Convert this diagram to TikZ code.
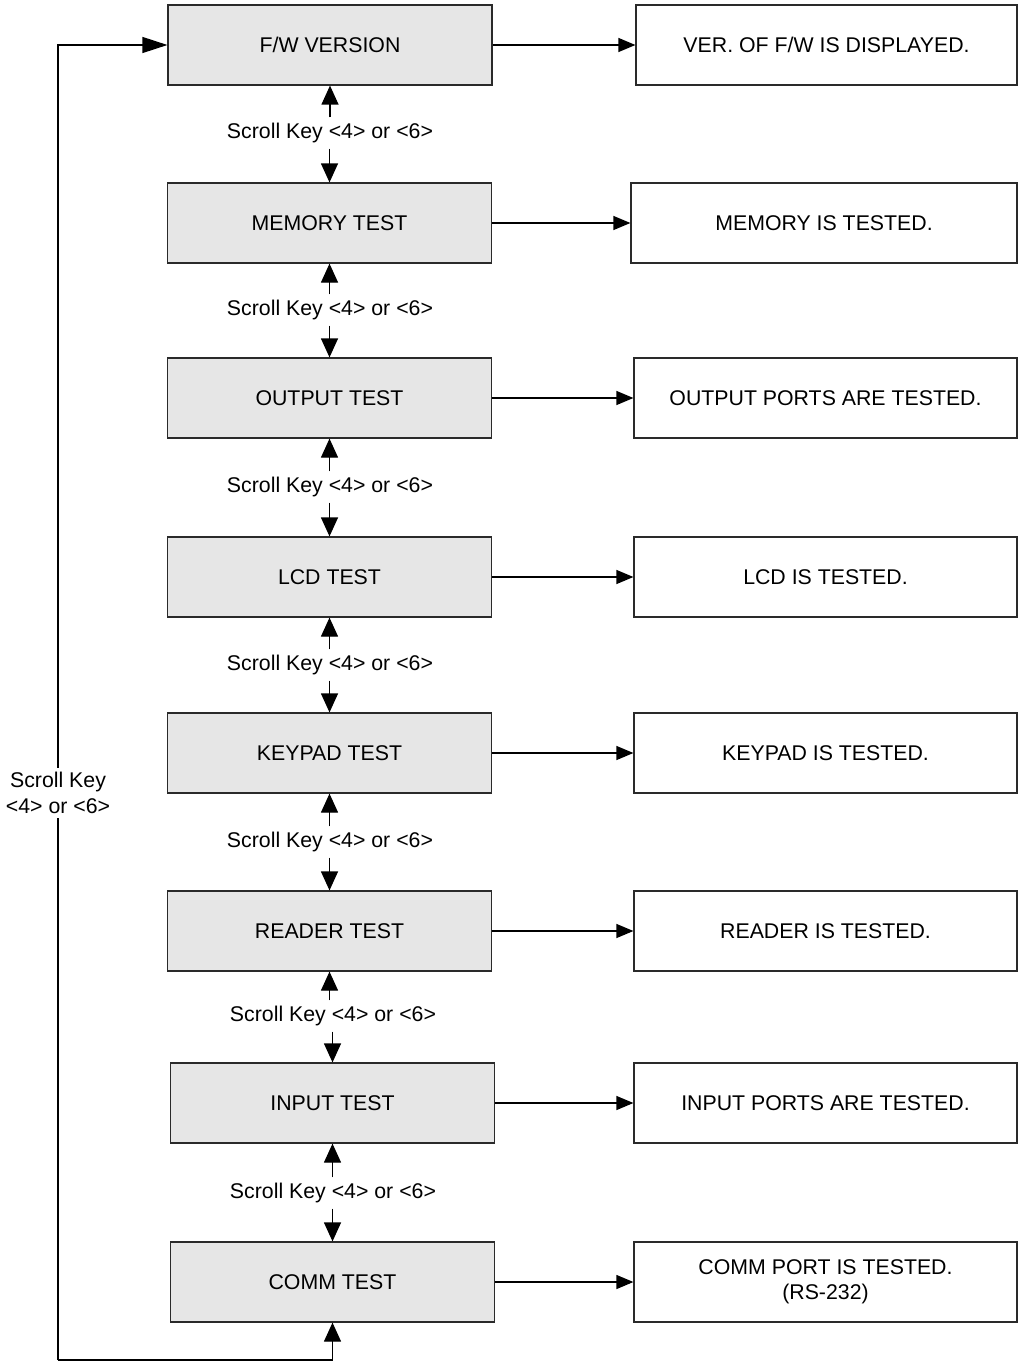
\documentclass[tikz,border=0pt]{standalone}
\usepackage{fontspec}
\setmainfont{Liberation Sans}
\usetikzlibrary{arrows.meta}
\definecolor{boxgray}{HTML}{E6E6E6}
\definecolor{edgegray}{HTML}{2A2A2A}
\begin{document}
\begin{tikzpicture}[x=1pt,y=-1pt,
  font=\fontsize{21.3}{25.5}\selectfont,
  line width=1.2pt,
  stagebox/.style={draw=edgegray, fill=boxgray, minimum width=324pt, minimum height=80pt, inner sep=0pt},
  resultbox/.style={draw=edgegray, fill=white, minimum width=383pt, minimum height=80pt, inner sep=0pt, align=center},
  flow/.style={-{Triangle[length=17pt,width=14pt]}},
  scroll/.style={-{Triangle[length=19pt,width=17pt]}},
  back/.style={-{Triangle[length=25pt,width=16pt]}},
  keylabel/.style={fill=white, inner xsep=2pt, inner ysep=5pt, align=center}]
\useasboundingbox (0,0) rectangle (1019,1362);

% test stages
\node[stagebox] (fw)   at (330,45)     {F/W VERSION};
\node[stagebox] (mem)  at (329.5,223)  {MEMORY TEST};
\node[stagebox] (out)  at (329.5,398)  {OUTPUT TEST};
\node[stagebox] (lcd)  at (329.5,577)  {LCD TEST};
\node[stagebox] (kpd)  at (329.5,753)  {KEYPAD TEST};
\node[stagebox] (rdr)  at (329.5,931)  {READER TEST};
\node[stagebox] (inp)  at (332.5,1103) {INPUT TEST};
\node[stagebox] (comm) at (332.5,1282) {COMM TEST};

% results
\node[resultbox, minimum width=381pt] (fwr) at (826.5,45) {VER. OF F/W IS DISPLAYED.};
\node[resultbox, minimum width=386pt] (memr) at (824,223) {MEMORY IS TESTED.};
\node[resultbox] (outr)  at (825.5,398)  {OUTPUT PORTS ARE TESTED.};
\node[resultbox] (lcdr)  at (825.5,577)  {LCD IS TESTED.};
\node[resultbox] (kpdr)  at (825.5,753)  {KEYPAD IS TESTED.};
\node[resultbox] (rdrr)  at (825.5,931)  {READER IS TESTED.};
\node[resultbox] (inpr)  at (825.5,1103) {INPUT PORTS ARE TESTED.};
\node[resultbox] (commr) at (825.5,1282) {COMM PORT IS TESTED.\\(RS-232)};

\foreach \a in {fw,mem,out,lcd,kpd,rdr,inp,comm}
  \draw[flow] (\a.east) -- (\a r.west);

% scroll keys between stages
\foreach \a/\b/\y/\x in {fw/mem/133/330, mem/out/310/330, out/lcd/487/330, lcd/kpd/665/330,
                          kpd/rdr/842/330, rdr/inp/1016/333, inp/comm/1193/333} {
  \node[keylabel] (k\a) at (\x,\y) {Scroll Key <4> or <6>};
  \draw[scroll] (k\a.north -| \a.south) -- (\a.south);
  \draw[scroll] (k\a.south -| \b.north) -- (\b.north);
}

% wrap-around from the last stage back to the first
\coordinate (lb) at (58,1360);
\coordinate (lt) at (58,45);
\draw[scroll] (lb) -- (lb -| comm.south) -- (comm.south);
\draw[back] (lb) -- (lt) -- (fw.west);
\node[keylabel, inner ysep=4pt] (loopkey) at (58,793) {Scroll Key\\<4> or <6>};
\end{tikzpicture}
\end{document}
